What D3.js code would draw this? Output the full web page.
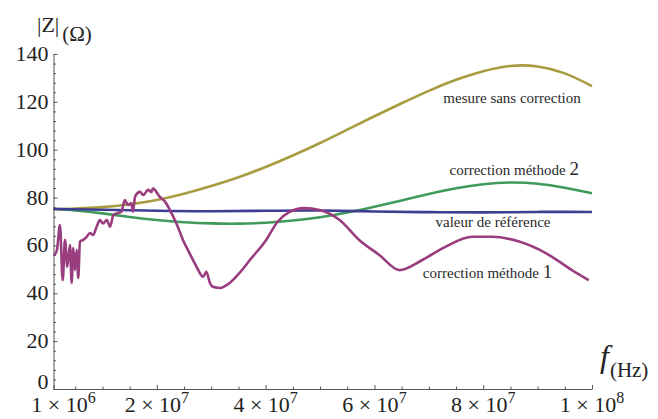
<!DOCTYPE html>
<html><head><meta charset="utf-8">
<script src="https://cdn.jsdelivr.net/npm/d3@7"></script>
<style>
body{margin:0;background:#fff;}
</style></head>
<body><svg id="c" width="658" height="419" font-family="'Liberation Serif', 'Times New Roman', Times, 'DejaVu Serif', serif"></svg>
<script>
// ---- data (frequencies in MHz, impedance in ohms) ----
const fSmooth = [1,5,10,15,20,25,30,35,40,45,50,55,60,65,70,75,80,85,90,95,100];
const mesureSansCorrection = [75.2,75.4,76.0,77.2,79.0,81.6,84.8,88.5,92.8,97.6,102.8,108.4,114.0,119.4,124.6,129.2,132.8,135.0,134.8,131.9,126.6];
const correctionMethode2 = [75.2,74.6,73.4,71.9,70.6,69.7,69.2,69.1,69.5,70.4,71.8,73.8,76.2,78.8,81.5,83.9,85.6,86.3,85.8,84.1,81.8];
const fRef = [1,10,20,30,40,50,60,70,80,90,100];
const valeurReference = [75.2,74.9,74.5,74.3,74.5,74.6,74.2,73.9,73.8,74.0,74.0];
const fMethode1 = [1.0,1.28,1.64,2.19,2.69,3.11,3.53,4.03,4.34,4.63,4.94,5.26,5.55,5.86,6.47,7.09,7.70,8.30,8.93,9.53,10.1,10.8,11.4,12.0,12.6,13.5,14.1,14.7,15.3,15.6,16.0,16.9,17.5,18.4,19.0,19.3,19.9,20.5,21.5,22.4,23.6,24.8,26.0,27.3,28.5,29.1,29.7,30.3,31.6,32.5,33.4,35.2,37.1,40.1,42.2,44.4,47.1,49.9,53.6,57.2,60.9,64.6,68.8,73.1,78.0,81.6,86.6,91.5,96.3,99.4];
const correctionMethode1 = [56.0,56.4,58.1,68.5,45.5,62.3,51.1,60.2,44.3,58.9,49.7,58.1,46.4,61.6,62.3,63.6,65.2,64.4,67.8,70.6,69.2,70.6,67.8,72.7,73.4,74.1,79.0,76.9,77.6,74.1,80.4,82.4,81.1,83.2,82.3,83.9,82.4,80.4,78.3,74.8,69.2,62.3,56.8,51.1,46.9,49.0,44.7,42.7,42.2,43.0,44.3,48.5,53.9,62.3,69.9,74.0,75.6,74.8,70.6,62.3,56.0,49.7,53.9,59.5,63.6,63.6,61.6,56.8,49.7,45.5];

const yTicks = [0,20,40,60,80,100,120,140];
const xTickValues = [1,20,40,60,80,100];
const xTickMantissa = ["1","2","4","6","8","1"];
const xTickExponent = ["6","7","7","7","7","8"];

// ---- layout ----
const FONT = "'Liberation Serif', 'Times New Roman', Times, 'DejaVu Serif', serif";
const svg = d3.select("#c");
const x = d3.scaleLinear().domain([1,100]).range([53.5,592]);
const y = d3.scaleLinear().domain([0,140]).range([389,54]);
const axisColor = "#555";

const xMinor = d3.range(5,100,5).filter(v=>!xTickValues.includes(v));
const yMinor = d3.range(0,141,4).filter(v=>v%20!==0);

const gx = svg.append("g").attr("transform",`translate(0,${y(0)})`);
gx.call(d3.axisBottom(x).tickValues(xTickValues).tickSize(-4).tickSizeOuter(0).tickFormat(""));
gx.append("g").call(d3.axisBottom(x).tickValues(xMinor).tickSize(-2.5).tickSizeOuter(0).tickFormat(""))
  .select(".domain").remove();
gx.selectAll("path,line").attr("stroke",axisColor);

const gy = svg.append("g").attr("transform",`translate(${x(1)},0)`);
gy.call(d3.axisLeft(y).tickValues(yTicks).tickSize(-4).tickSizeOuter(0).tickFormat(""));
gy.append("g").call(d3.axisLeft(y).tickValues(yMinor).tickSize(-2.5).tickSizeOuter(0).tickFormat(""))
  .select(".domain").remove();
gy.selectAll("path,line").attr("stroke",axisColor);

// y tick labels
svg.append("g").selectAll("text").data(yTicks).join("text")
  .attr("font-family",FONT)
  .attr("x", x(1)-5).attr("y", d=>y(d)+ (d===0? 0 : 7))
  .attr("text-anchor","end").attr("font-size",22).attr("fill","#222")
  .text(d=>d);

// x tick labels
const xl = svg.append("g").selectAll("text").data(xTickValues).join("text")
  .attr("font-family",FONT)
  .attr("x",(d,i)=>x(d)+(i===0?10:0)).attr("y",412)
  .attr("text-anchor","middle").attr("font-size",22).attr("fill","#222");
xl.append("tspan").text((d,i)=>xTickMantissa[i]+" \u00d7 10");
xl.append("tspan").attr("dy",-9).attr("font-size",16).text((d,i)=>xTickExponent[i]);

// axis titles
const yt = svg.append("text").attr("font-family",FONT).attr("x",37).attr("y",32).attr("font-size",22).attr("fill","#222");
yt.append("tspan").text("|Z|");
yt.append("tspan").attr("dx",3).attr("dy",9).attr("font-size",21).text("(\u03a9)");
const xt = svg.append("text").attr("font-family",FONT).attr("x",600).attr("y",367).attr("fill","#222");
xt.append("tspan").attr("font-size",32).attr("font-style","italic").text("f");
xt.append("tspan").attr("dx",1).attr("dy",10).attr("font-size",21).text("(Hz)");

// curves
const line = d3.line().x(d=>x(d[0])).y(d=>y(d[1]));
function draw(fs, vs, color, curve){
  svg.append("path").datum(fs.map((f,i)=>[f,vs[i]]))
    .attr("d", line.curve(curve)).attr("fill","none")
    .attr("stroke",color).attr("stroke-width",2.6).attr("stroke-linejoin","round");
}
draw(fSmooth, mesureSansCorrection, "#a89c40", d3.curveNatural);
draw(fSmooth, correctionMethode2, "#3f9a5c", d3.curveNatural);
draw(fRef, valeurReference, "#3d3d93", d3.curveNatural);
draw(fMethode1, correctionMethode1, "#993d7f", d3.curveMonotoneX);

// annotations
const labels = [
  {t:"mesure sans correction", n:"", f:85.3, v:119.5},
  {t:"correction méthode ", n:"2", f:85.7, v:89.4},
  {t:"valeur de référence", n:"", f:81.8, v:67.7},
  {t:"correction méthode ", n:"1", f:80.8, v:46.4}
];
const lt = svg.append("g").selectAll("text").data(labels).join("text")
  .attr("font-family",FONT)
  .attr("x",d=>x(d.f)).attr("y",d=>y(d.v)).attr("text-anchor","middle")
  .attr("font-size",15).attr("fill","#2a2a2a");
lt.append("tspan").text(d=>d.t);
lt.append("tspan").attr("font-size",19).text(d=>d.n);
</script></body></html>
